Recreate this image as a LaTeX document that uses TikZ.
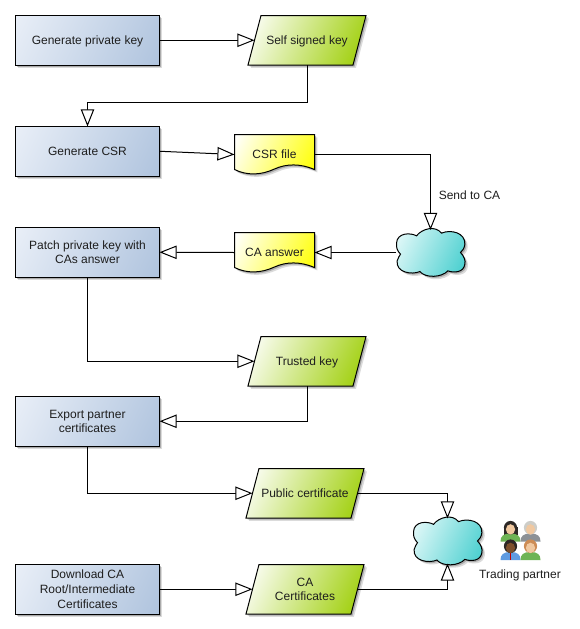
\documentclass[tikz,border=0pt]{standalone}
\usepackage{fontspec}
\setmainfont{Liberation Sans}
\usetikzlibrary{arrows.meta,shadows,calc}
\definecolor{txt}{RGB}{30,30,30}
\definecolor{boxa}{RGB}{232,238,247}
\definecolor{boxb}{RGB}{176,196,222}
\definecolor{paraa}{RGB}{255,255,255}
\definecolor{parab}{RGB}{155,205,0}
\definecolor{doca}{RGB}{255,255,255}
\definecolor{docb}{RGB}{255,255,0}
\definecolor{clouda}{RGB}{235,251,251}
\definecolor{cloudb}{RGB}{65,205,205}
\pgfdeclareverticalshading{boxgrad}{100bp}{color(0bp)=(boxb); color(18bp)=(boxb); color(82bp)=(boxa); color(100bp)=(boxa)}
\pgfdeclareverticalshading{paragrad}{100bp}{color(0bp)=(parab); color(18bp)=(parab); color(82bp)=(paraa); color(100bp)=(paraa)}
\pgfdeclareverticalshading{docgrad}{100bp}{color(0bp)=(docb); color(18bp)=(docb); color(82bp)=(doca); color(100bp)=(doca)}
\pgfdeclareverticalshading{cloudgrad}{100bp}{color(0bp)=(cloudb); color(18bp)=(cloudb); color(82bp)=(clouda); color(100bp)=(clouda)}
\tikzset{
  softshadow/.style={
    drop shadow={shadow xshift=1.2pt,shadow yshift=-1.2pt,fill=black,opacity=.22},
    drop shadow={shadow xshift=2.2pt,shadow yshift=-2.2pt,fill=black,opacity=.14}},
  label/.style={font=\fontsize{9pt}{11pt}\selectfont,text=txt,align=center,inner sep=0pt,outer sep=0pt,text depth=0pt},
  procbox/.style={label,draw=black,line width=.75pt,rectangle,minimum width=108pt,minimum height=37.2pt,
    softshadow,shade,shading=boxgrad,shading angle=65},
  datafill/.style={draw=black,line width=.75pt,softshadow,shade,shading=paragrad,shading angle=65},
  dataanchor/.style={label,rectangle,minimum width=78.75pt,minimum height=37.2pt},
  docanchor/.style={label,rectangle,minimum width=60pt,minimum height=30pt},
  docfill/.style={draw=black,line width=.75pt,softshadow,shade,shading=docgrad,shading angle=65},
  cloudfill/.style={draw=black,line width=.75pt,softshadow,shade,shading=cloudgrad,shading angle=65},
  cloudanchor/.style={rectangle,inner sep=0pt,outer sep=0pt,minimum width=51.75pt,minimum height=33.75pt},
  link/.style={draw=black,line width=.75pt,-{Triangle[open,fill=white,length=12.8pt,width=10pt]}},
  plain/.style={label}
}
\newcommand{\datashape}[2]{%
  \path[datafill,shift={(#1,#2)}] (-59,24.75) -- (-46,-24.75) -- (59,-24.75) -- (46,24.75) -- cycle;}
\newcommand{\docshape}[2]{%
  \path[docfill,shift={(#1,#2)}] (0,0) -- (80,0) -- (80,35)
    .. controls (66,29) and (52,29) .. (40,34.5)
    .. controls (26,41) and (12,41) .. (0,35) -- cycle;}
\newcommand{\cloudshape}[2]{%
  \path[cloudfill,shift={(#1,#2)},x=.25pt,y=-.25pt] (-102,-28)
    .. controls (-100,-60) and (-60,-60) .. (-42,-50)
    .. controls (-25,-72) and (15,-82) .. (33,-58)
    .. controls (60,-70) and (105,-60) .. (103,-25)
    .. controls (102,-12) and (95,-5) .. (90,0)
    .. controls (100,10) and (106,25) .. (103,35)
    .. controls (100,60) and (70,62) .. (52,55)
    .. controls (35,75) and (-15,78) .. (-32,57)
    .. controls (-55,68) and (-105,60) .. (-100,25)
    .. controls (-98,15) and (-92,10) .. (-90,5)
    .. controls (-100,-5) and (-103,-15) .. (-102,-28) -- cycle;}
\newcommand{\person}[5]{%
  \begin{scope}[shift={(#1,#2)}]
    \fill[#5] (-10,13.5) .. controls (-10,8) and (-7,5.5) .. (0,5.5) .. controls (7,5.5) and (10,8) .. (10,13.5) -- cycle;
    \fill[#4] (0,-.3) circle[x radius=6.6,y radius=6.8];
    \fill[#3] (0,1.4) circle[x radius=4.6,y radius=5.2];
  \end{scope}}
\begin{document}
\begin{tikzpicture}[x=.75pt,y=-.75pt]
\useasboundingbox (0,0) rectangle (579,629);
% process boxes
\node[procbox] (box1) at (87.5,40.25) {Generate private key};
\node[procbox] (box2) at (87.5,151.25) {Generate CSR};
\node[procbox] (box3) at (87.5,252.25) {Patch private key with\\CAs answer};
\node[procbox] (box4) at (87.5,421.25) {Export partner\\certificates};
\node[procbox] (box5) at (87.5,589.25) {Download CA\\Root/Intermediate\\Certificates};
% data
\datashape{307}{40.25}
\node[dataanchor] (selfkey) at (307,40.25) {Self signed key};
\datashape{307}{361.25}
\node[dataanchor] (trusted) at (307,361.25) {Trusted key};
\datashape{305}{493.25}
\node[dataanchor] (public) at (305,493.25) {Public certificate};
\datashape{305}{589.25}
\node[dataanchor] (cacert) at (305,589.25) {CA\\Certificates};
% documents
\docshape{234.5}{134.5}
\node[docanchor] (csr) at (274.5,154.5) {CSR file};
\docshape{234.5}{232.5}
\node[docanchor] (answer) at (274.5,252.5) {CA answer};
% clouds
\cloudshape{430.5}{252.5}
\node[cloudanchor] (cloudca) at (430.5,252.5) {};
\cloudshape{447.5}{541}
\node[cloudanchor] (cloudtp) at (447.5,541) {};
% people icon
\definecolor{skinA}{RGB}{240,200,160}
\definecolor{skinB}{RGB}{125,80,45}
\definecolor{hairA}{RGB}{45,40,38}
\definecolor{hairG}{RGB}{205,205,200}
\definecolor{hairO}{RGB}{205,140,85}
\definecolor{shirtG}{RGB}{110,180,85}
\definecolor{shirtS}{RGB}{140,145,150}
\definecolor{shirtB}{RGB}{95,155,225}
\fill[hairA] (503.5,527) rectangle (517.5,535);
\person{510.5}{528}{skinA}{hairA}{shirtG}
\person{530.5}{528}{skinA}{hairG}{shirtS}
\person{510.5}{546.5}{skinB}{hairA}{shirtB}
\fill[red!75!black] (509.7,553) rectangle (511.3,560);
\person{530.5}{546.5}{skinA}{hairO}{shirtG}
% texts
\node[plain] (sendlabel) at (469.5,195) {Send to CA};
\node[plain] (tplabel) at (520,574) {Trading partner};
% connectors
\coordinate (bend) at (87.5,102);
\draw[link] (box1.east) -- (selfkey.west);
\draw[link] (selfkey.south) |- (bend) -- (box2.north);
\draw[link] (box2.east) -- (csr.west);
\draw[link] (csr.east) -| (cloudca.north);
\draw[link] (cloudca.west) -- (answer.east);
\draw[link] (answer.west) -- (box3.east);
\draw[link] (box3.south) |- (trusted.west);
\draw[link] (trusted.south) |- (box4.east);
\draw[link] (box4.south) |- (public.west);
\draw[link] (public.east) -| (cloudtp.north);
\draw[link] (box5.east) -- (cacert.west);
\draw[link] (cacert.east) -| (cloudtp.south);
\end{tikzpicture}
\end{document}
